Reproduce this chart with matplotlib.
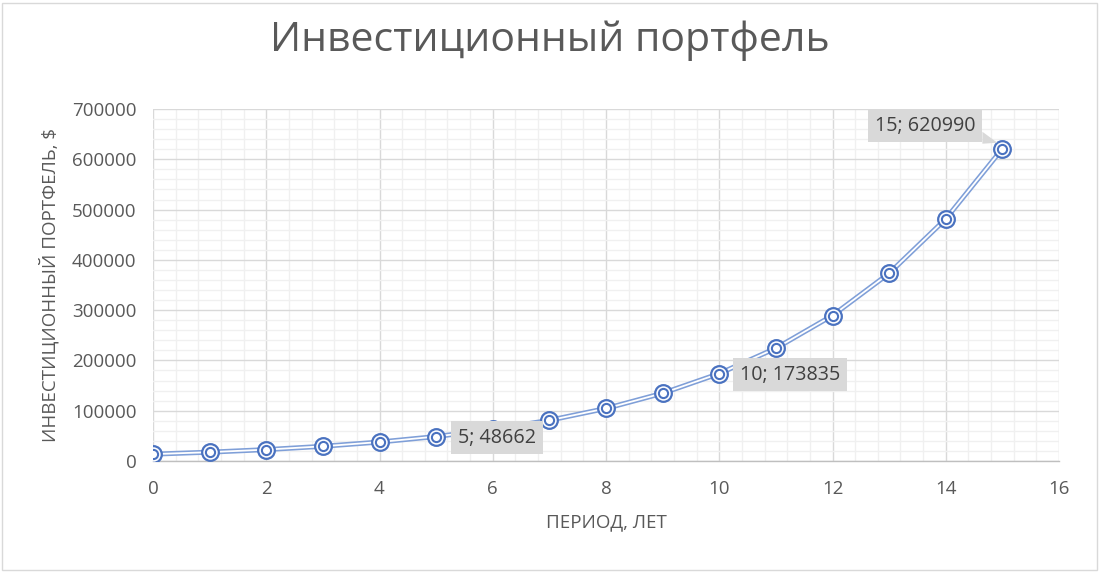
import matplotlib
matplotlib.use('Agg')
import matplotlib.pyplot as plt
import matplotlib.ticker as ticker
import matplotlib.patheffects as pe
import matplotlib.transforms as mtransforms
from matplotlib.patches import Rectangle, Polygon

# Data
years = [0, 1, 2, 3, 4, 5, 6, 7, 8, 9, 10, 11, 12, 13, 14, 15]
portfolio = [13622, 17572, 22668, 29242, 37722, 48662, 62774, 80979,
             104463, 134757, 173835, 224249, 289281, 373173, 481393, 620990]
labelled = [5, 10, 15]

title = 'Инвестиционный портфель'
x_label = 'ПЕРИОД, ЛЕТ'
y_label = 'ИНВЕСТИЦИОННЫЙ ПОРТФЕЛЬ, $'

plt.rcParams['font.family'] = ['Open Sans', 'DejaVu Sans']

marker_blue = '#4A72C0'
line_blue = '#7F9FD8'
text_grey = '#595959'

fig = plt.figure(figsize=(11, 5.72), dpi=100)
ax = fig.add_axes([153 / 1100, 111 / 572, 906 / 1100, 352 / 572])

# double ("compound") line
ax.plot(years, portfolio, color=line_blue, lw=3.6, zorder=3,
        path_effects=[pe.Stroke(linewidth=3.6, foreground=line_blue),
                      pe.Stroke(linewidth=1.3, foreground='white')])
# double-ring markers
ax.plot(years, portfolio, ls='none', marker='o', ms=12.0, mfc='white',
        mec=marker_blue, mew=1.6, zorder=4)
ax.plot(years, portfolio, ls='none', marker='o', ms=6.6, mfc='white',
        mec=marker_blue, mew=1.5, zorder=5)

ax.set_xlim(0, 16)
ax.set_ylim(0, 700000)
ax.xaxis.set_major_locator(ticker.MultipleLocator(2))
ax.xaxis.set_minor_locator(ticker.MultipleLocator(0.4))
ax.yaxis.set_major_locator(ticker.MultipleLocator(100000))
ax.yaxis.set_minor_locator(ticker.MultipleLocator(20000))
ax.grid(True, which='major', color='#D9D9D9', lw=1.0, zorder=0)
ax.grid(True, which='minor', color='#F0F0F0', lw=1.0, zorder=0)
ax.set_axisbelow(True)

for side in ['top', 'right', 'left']:
    ax.spines[side].set_visible(False)
ax.spines['bottom'].set_color('#BFBFBF')
ax.spines['bottom'].set_linewidth(1.0)

ax.tick_params(which='both', length=0, colors=text_grey, labelsize=13.5)
ax.tick_params(axis='x', pad=14)
ax.tick_params(axis='y', pad=12)

ax.set_xlabel(x_label, fontsize=13.5, color=text_grey, labelpad=11)
ax.set_ylabel(y_label, fontsize=13.5, color=text_grey, labelpad=9)
fig.suptitle(title, fontsize=29.5, color=text_grey, y=0.965, x=0.5)

# data labels
offsets = {5: (61, -1), 10: (71, -1), 15: (-77, 23)}
for i, yr in enumerate(years):
    if yr in labelled:
        ax.annotate(f'{yr}; {portfolio[i]}', xy=(yr, portfolio[i]),
                    xytext=offsets[yr], textcoords='offset pixels',
                    ha='center', va='center', fontsize=14.2, color='#404040',
                    bbox=dict(boxstyle='square,pad=0.34', fc='#D9D9D9', ec='none'),
                    zorder=6)

# callout tail of the last label
last = years.index(15)
tail_tr = mtransforms.Affine2D() + mtransforms.ScaledTranslation(
    years[last], portfolio[last], ax.transData)
ax.add_patch(Polygon([(-20, 17), (-5, 6), (-20, 5)], closed=True,
                     fc='#D9D9D9', ec='none', transform=tail_tr, zorder=6))

# chart area border
fig.patches.append(Rectangle((0.002, 0.004), 0.995, 0.99, transform=fig.transFigure,
                             fill=False, ec='#D9D9D9', lw=1.0))

fig.savefig('out.png', dpi=100, facecolor='white')
